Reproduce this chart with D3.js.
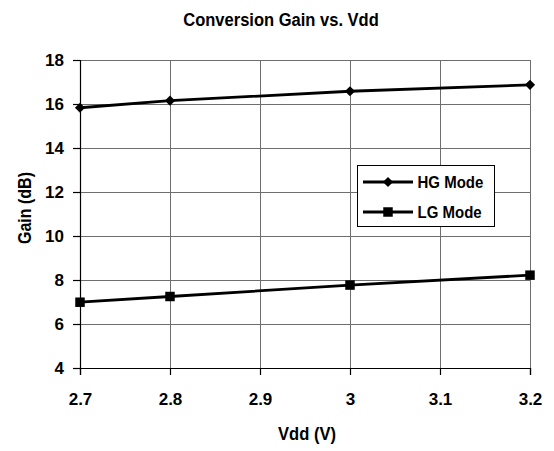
<!DOCTYPE html>
<html><head><meta charset="utf-8">
<script src="https://cdn.jsdelivr.net/npm/d3@7"></script>
<style>
body{margin:0;background:#fff;}
text{font-family:"Liberation Sans",Arial,sans-serif;font-weight:bold;fill:#000;}
</style></head><body>
<svg id="c" width="554" height="451"></svg>
<script>
const vdd = [2.7, 2.8, 3.0, 3.2];
const hgMode = [15.83, 16.15, 16.58, 16.87];
const lgMode = [6.99, 7.25, 7.77, 8.22];
const xTicks = [2.7, 2.8, 2.9, 3.0, 3.1, 3.2];
const yTicks = [4, 6, 8, 10, 12, 14, 16, 18];
const seriesNames = ["HG Mode", "LG Mode"];

const svg = d3.select("#c");
const x = d3.scaleLinear().domain([2.7, 3.2]).range([80, 530]);
const y = d3.scaleLinear().domain([4, 18]).range([368, 60]);

// grid
svg.append("g").selectAll("line").data(yTicks.slice(1)).join("line")
  .attr("x1", 80).attr("x2", 530).attr("y1", d => y(d)).attr("y2", d => y(d))
  .attr("stroke", "#6e6e6e").attr("stroke-width", 1).attr("shape-rendering", "crispEdges");
svg.append("g").selectAll("line").data(xTicks.slice(1)).join("line")
  .attr("y1", 60).attr("y2", 368).attr("x1", d => x(d)).attr("x2", d => x(d))
  .attr("stroke", "#6e6e6e").attr("stroke-width", 1).attr("shape-rendering", "crispEdges");

// axes
const xAxis = svg.append("g").attr("transform", "translate(0,368)")
  .call(d3.axisBottom(x).tickValues(xTicks).tickFormat(d3.format("")).tickSize(7).tickPadding(18));
const yAxis = svg.append("g").attr("transform", "translate(80,0)")
  .call(d3.axisLeft(y).tickValues(yTicks).tickSize(7).tickPadding(9));
[xAxis, yAxis].forEach(a => {
  a.select(".domain").attr("stroke", "#000").attr("stroke-width", 1.2);
  a.selectAll(".tick line").attr("stroke", "#000").attr("stroke-width", 1.2);
  a.selectAll("text").attr("font-size", 17).attr("fill", "#000")
   .style("font-family", '"Liberation Sans",Arial,sans-serif').style("font-weight", "bold");
});

// lines
const line = d3.line().x(d => x(d[0])).y(d => y(d[1]));
const hg = vdd.map((v, i) => [v, hgMode[i]]);
const lg = vdd.map((v, i) => [v, lgMode[i]]);
svg.append("path").datum(hg).attr("d", line).attr("fill", "none").attr("stroke", "#000").attr("stroke-width", 2.8);
svg.append("path").datum(lg).attr("d", line).attr("fill", "none").attr("stroke", "#000").attr("stroke-width", 2.8);
svg.append("g").selectAll("path").data(hg).join("path")
  .attr("transform", d => `translate(${x(d[0])},${y(d[1])}) rotate(45)`)
  .attr("d", d3.symbol().type(d3.symbolSquare).size(52)()).attr("fill", "#000");
svg.append("g").selectAll("path").data(lg).join("path")
  .attr("transform", d => `translate(${x(d[0])},${y(d[1])})`)
  .attr("d", d3.symbol().type(d3.symbolSquare).size(90)()).attr("fill", "#000");

// text helper with horizontal condensing
function label(tx, ty, size, sx, str, anchor, rot) {
  return svg.append("text")
    .attr("transform", `translate(${tx},${ty}) rotate(${rot || 0}) scale(${sx},1)`)
    .attr("font-size", size).attr("text-anchor", anchor || "start").text(str);
}

// legend
svg.append("rect").attr("x", 357.5).attr("y", 165.5).attr("width", 137).attr("height", 61)
  .attr("fill", "#fff").attr("stroke", "#000").attr("stroke-width", 1);
[0, 1].forEach(i => {
  const yy = 182 + i * 30;
  svg.append("line").attr("x1", 363).attr("x2", 413).attr("y1", yy).attr("y2", yy)
    .attr("stroke", "#000").attr("stroke-width", 2.8);
  svg.append("path").attr("transform", `translate(388,${yy}) rotate(${i === 0 ? 45 : 0})`)
    .attr("d", d3.symbol().type(d3.symbolSquare).size(i === 0 ? 52 : 90)()).attr("fill", "#000");
  label(417.5, yy + 5.8, 16.3, 0.92, seriesNames[i], "start");
});

// titles
label(281, 25.5, 19, 0.87, "Conversion Gain vs. Vdd", "middle");
label(307, 440, 18, 0.92, "Vdd (V)", "middle");
label(30.5, 208, 18, 0.89, "Gain (dB)", "middle", -90);
</script></body></html>
